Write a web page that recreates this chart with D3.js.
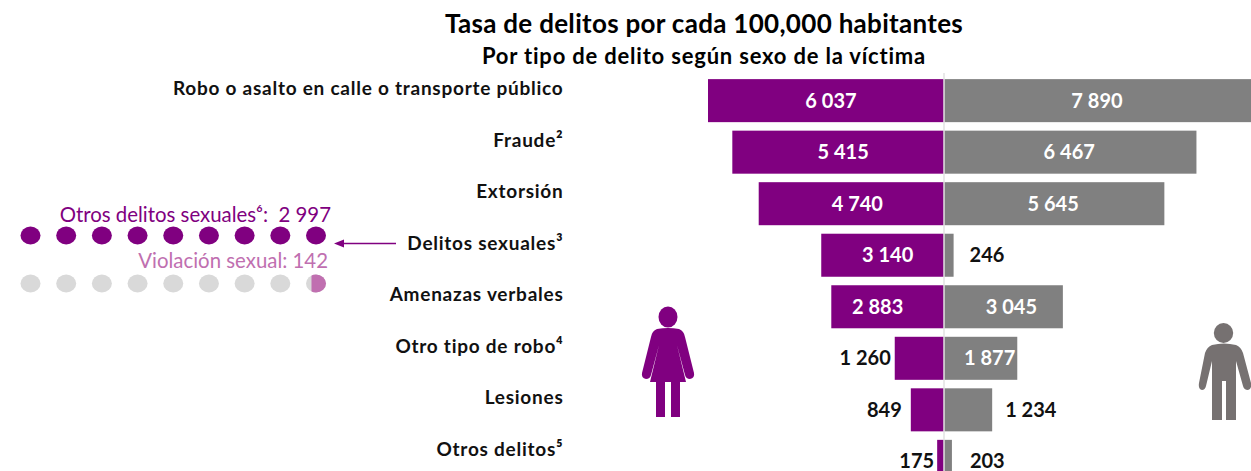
<!DOCTYPE html>
<html><head><meta charset="utf-8">
<script src="https://cdn.jsdelivr.net/npm/d3@7/dist/d3.min.js"></script>
<style>html,body{margin:0;padding:0;background:#fff}svg{display:block}text{font-family:Lato,"Open Sans",sans-serif;white-space:pre}</style>
</head><body><svg id="c" width="1251" height="471"></svg>
<script>
const categories=["Robo o asalto en calle o transporte público","Fraude²","Extorsión","Delitos sexuales³","Amenazas verbales","Otro tipo de robo⁴","Lesiones","Otros delitos⁵"];
const mujeres=[6037,5415,4740,3140,2883,1260,849,175];
const hombres=[7890,6467,5645,246,3045,1877,1234,203];
const titulo="Tasa de delitos por cada 100,000 habitantes";
const subtitulo="Por tipo de delito según sexo de la víctima";
const otrosLabel="Otros delitos sexuales⁶:  2 997";
const violacionLabel="Violación sexual: 142";
const dotIndex=[0,1,2,3,4,5,6,7,8];

const purple="#800080",gray="#808080",pink="#C06FB0";
const fmt=v=>{const s=String(v);return s.length>3?s.slice(0,-3)+" "+s.slice(-3):s;};
const svg=d3.select("#c");

const x=d3.scaleLinear().domain([-6037,0,7890]).range([708,944,1252]);
const y=d3.scaleBand().domain(categories).range([75,487]).paddingInner(0.165).paddingOuter(0.08);
const rows=categories.map((c,i)=>({c,f:mujeres[i],m:hombres[i]}));

svg.selectAll("rect.f").data(rows).join("rect").attr("x",d=>x(-d.f)).attr("y",d=>y(d.c)).attr("width",d=>x(0)-x(-d.f)).attr("height",y.bandwidth()).attr("fill",purple);
svg.selectAll("rect.m").data(rows).join("rect").attr("x",x(0)).attr("y",d=>y(d.c)).attr("width",d=>x(d.m)-x(0)).attr("height",y.bandwidth()).attr("fill",gray);
svg.append("line").attr("x1",x(0)).attr("x2",x(0)).attr("y1",73).attr("y2",471).attr("stroke","#e2e2e2").attr("stroke-width",1.5);

// títulos
svg.append("text").attr("x",704).attr("y",33).attr("text-anchor","middle").attr("font-size",26).attr("letter-spacing",0.3).attr("font-weight",700).attr("fill","#000").text(titulo);
svg.append("text").attr("x",704).attr("y",64).attr("text-anchor","middle").attr("font-size",22).attr("letter-spacing",0.8).attr("font-weight",700).attr("fill","#000").text(subtitulo);

// categorías
svg.selectAll("text.cat").data(rows).join("text").attr("x",563.5).attr("y",d=>y(d.c)+y.bandwidth()/2-5.5).attr("text-anchor","end").attr("font-size",19).attr("letter-spacing",0.75).attr("font-weight",700).attr("fill","#111").each(function(d){
  const m=d.c.match(/^(.*?)([²³⁴⁵]?)$/);
  const t=d3.select(this);
  t.append("tspan").text(m[1]);
  if(m[2])t.append("tspan").attr("font-size",20).text(m[2]);
});

// etiquetas de valor: colocación por fila
const placeF=[["in",5],["in",5],["in",6],["in",5],["in",-10],["out",-4],["out",-9],["out",-3]];
const placeM=[["in",-1],["in",-1],["in",-1],["out",16],["in",8],["in",9],["out",13],["out",18]];
rows.forEach((d,i)=>{
  const cy=y(d.c)+y.bandwidth()/2+7;
  const [pf,df]=placeF[i],[pm,dm]=placeM[i];
  const tf=svg.append("text").attr("y",cy).attr("font-size",20).attr("font-weight",700).text(fmt(d.f));
  if(pf==="in")tf.attr("x",(x(-d.f)+x(0))/2+df).attr("text-anchor","middle").attr("fill","#fff");
  else tf.attr("x",x(-d.f)+df).attr("text-anchor","end").attr("fill","#111");
  const tm=svg.append("text").attr("y",cy).attr("font-size",20).attr("font-weight",700).text(fmt(d.m));
  if(pm==="in")tm.attr("x",(x(0)+x(d.m))/2+dm).attr("text-anchor","middle").attr("fill","#fff");
  else tm.attr("x",x(d.m)+dm).attr("text-anchor","start").attr("fill","#111");
});

// puntos
const dx=d3.scalePoint().domain(dotIndex).range([30.5,316]);
svg.selectAll("ellipse.a").data(dotIndex).join("ellipse").attr("cx",d=>dx(d)).attr("cy",235.5).attr("rx",10).attr("ry",9).attr("fill",purple);
svg.selectAll("ellipse.b").data(dotIndex).join("ellipse").attr("cx",d=>dx(d)).attr("cy",283.5).attr("rx",10).attr("ry",9).attr("fill","#d9d9d9");
svg.append("clipPath").attr("id","cp").append("rect").attr("x",dx(8)-4.5).attr("y",270).attr("width",20).attr("height",26);
svg.append("ellipse").attr("cx",dx(8)).attr("cy",283.5).attr("rx",10).attr("ry",9).attr("fill",pink).attr("clip-path","url(#cp)");
svg.append("text").attr("x",331).attr("y",222).attr("text-anchor","end").attr("font-size",20.4).attr("fill",purple).text(otrosLabel);
svg.append("text").attr("x",328).attr("y",268).attr("text-anchor","end").attr("font-size",20.4).attr("fill",pink).text(violacionLabel);

// flecha
svg.append("line").attr("x1",396).attr("x2",340).attr("y1",243.5).attr("y2",243.5).attr("stroke",purple).attr("stroke-width",1.3);
svg.append("path").attr("d","M334,243.5L344,239.5L344,247.5Z").attr("fill",purple);

// iconos
const w=svg.append("g").attr("fill",purple);
w.append("ellipse").attr("cx",668).attr("cy",317).attr("rx",9.5).attr("ry",10.5);
w.append("path").attr("d","M657,329Q668,327 679,329Q684,331 685,337L694,373Q695,378 690,379Q686,379 685,375L677,345L686,382H680V417H671V382H665V417H656V382H650L659,345L651,375Q650,379 646,379Q641,378 642,373L651,337Q652,331 657,329Z");
const m=svg.append("g").attr("fill","#767171");
m.append("ellipse").attr("cx",1223.5).attr("cy",333).attr("rx",9.7).attr("ry",10);
m.append("path").attr("d","M1212,345Q1224,342 1236,345Q1241,347 1243,353L1251,383Q1252,389 1248,390Q1244,390 1243,386L1236,361V420H1226V381H1222V420H1212V361L1206,386Q1205,390 1202,390Q1198,389 1199,383L1205,353Q1207,347 1212,345Z");
</script></body></html>
